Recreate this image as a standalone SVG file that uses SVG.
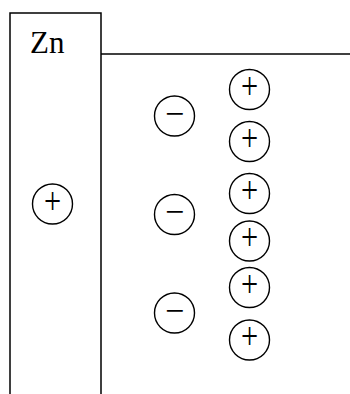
<svg xmlns="http://www.w3.org/2000/svg" width="350" height="394" viewBox="0 0 350 394">
<style>
.ln{fill:none;stroke:#000;stroke-width:1.5}
.c{fill:#fff;stroke:#000;stroke-width:1.4}
.p{font-family:"Liberation Serif","Times New Roman",serif;font-size:38px;text-anchor:middle;fill:#000}
.m{font-family:"Liberation Serif","Times New Roman",serif;font-size:34px;text-anchor:middle;fill:#000}
.lbl{font-family:"Liberation Serif","Times New Roman",serif;font-size:31px;fill:#000}
</style>
<g id="electrode">
<path class="ln" d="M10,394 V13 H101 V394"/>
<text class="lbl" x="30" y="53">Zn</text>
</g>
<g id="connectors">
<line class="ln" x1="101" y1="54" x2="350" y2="54"/>
</g>
<g id="ion-zn">
<circle class="c" cx="52.5" cy="204" r="20"/>
<text class="p" transform="translate(52.5,213.5) scale(0.8,1)">+</text>
</g>
<g id="anion-1">
<circle class="c" cx="174.5" cy="116" r="20"/>
<text class="m" transform="translate(174.5,124.7)">−</text>
</g>
<g id="anion-2">
<circle class="c" cx="174.5" cy="214.5" r="20"/>
<text class="m" transform="translate(174.5,223.2)">−</text>
</g>
<g id="anion-3">
<circle class="c" cx="174.5" cy="313" r="20"/>
<text class="m" transform="translate(174.5,321.7)">−</text>
</g>
<g id="cation-1">
<circle class="c" cx="249.5" cy="89.5" r="20"/>
<text class="p" transform="translate(249.5,98.8) scale(0.8,1)">+</text>
</g>
<g id="cation-2">
<circle class="c" cx="249.5" cy="141.5" r="20"/>
<text class="p" transform="translate(249.5,150.8) scale(0.8,1)">+</text>
</g>
<g id="cation-3">
<circle class="c" cx="249.5" cy="193.5" r="20"/>
<text class="p" transform="translate(249.5,202.8) scale(0.8,1)">+</text>
</g>
<g id="cation-4">
<circle class="c" cx="249.5" cy="241" r="20"/>
<text class="p" transform="translate(249.5,250.3) scale(0.8,1)">+</text>
</g>
<g id="cation-5">
<circle class="c" cx="249.5" cy="287.5" r="20"/>
<text class="p" transform="translate(249.5,296.8) scale(0.8,1)">+</text>
</g>
<g id="cation-6">
<circle class="c" cx="249.5" cy="340" r="20"/>
<text class="p" transform="translate(249.5,349.3) scale(0.8,1)">+</text>
</g>
</svg>
